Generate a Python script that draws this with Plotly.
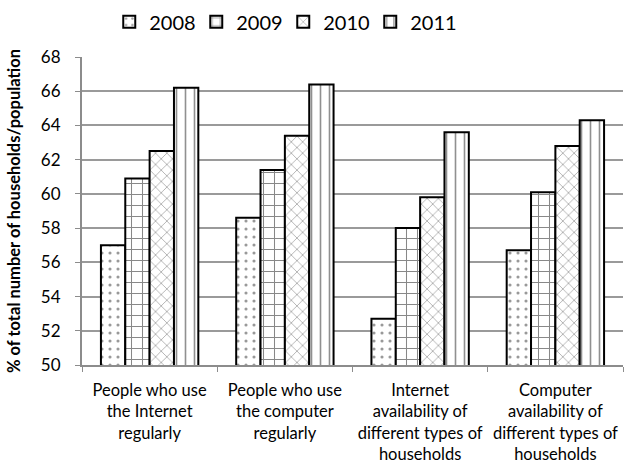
import plotly.graph_objects as go

categories = [
    "People who use<br>the Internet<br>regularly",
    "People who use<br>the computer<br>regularly",
    "Internet<br>availability of<br>different types of<br>households",
    "Computer<br>availability of<br>different types of<br>households",
]
years = ["2008", "2009", "2010", "2011"]
values_2008 = [57.0, 58.6, 52.7, 56.7]
values_2009 = [60.9, 61.4, 58.0, 60.1]
values_2010 = [62.5, 63.4, 59.8, 62.8]
values_2011 = [66.2, 66.4, 63.6, 64.3]
series = [values_2008, values_2009, values_2010, values_2011]

patterns = [
    dict(shape=".", size=8, solidity=0.12, fgcolor="#333333"),
    dict(shape="+", size=11, solidity=0.18, fgcolor="#111111"),
    dict(shape="x", size=8, solidity=0.2, fgcolor="#555555"),
    dict(shape="|", size=9, solidity=0.18, fgcolor="#222222"),
]

fig = go.Figure()
for name, vals, pat in zip(years, series, patterns):
    fig.add_trace(go.Bar(
        name=name,
        x=categories,
        y=vals,
        marker=dict(
            color="white",
            line=dict(color="black", width=2),
            pattern=dict(fillmode="overlay", bgcolor="white", **pat),
        ),
    ))

font_family = "Lato, 'Open Sans', sans-serif"

fig.update_layout(
    template="none",
    width=625,
    height=466,
    paper_bgcolor="white",
    plot_bgcolor="white",
    barmode="group",
    bargap=0.28,
    bargroupgap=0.0,
    margin=dict(l=82, r=2, t=57, b=101),
    font=dict(family=font_family, color="black"),
    legend=dict(
        orientation="h",
        x=0.372,
        xanchor="center",
        y=0.995,
        yanchor="top",
        yref="container",
        font=dict(size=20, family=font_family),
        itemwidth=30,
        entrywidth=42,
        entrywidthmode="pixels",
        traceorder="normal",
        bgcolor="rgba(0,0,0,0)",
    ),
    xaxis=dict(
        automargin=False,
        showline=True,
        linecolor="#8c8c8c",
        linewidth=2,
        ticks="outside",
        tickson="boundaries",
        ticklen=5,
        tickcolor="#8c8c8c",
        ticklabelstandoff=9,
        tickfont=dict(size=16.5, family=font_family),
        showgrid=False,
    ),
    yaxis=dict(
        automargin=False,
        range=[50, 68],
        dtick=2,
        showline=True,
        linecolor="#8c8c8c",
        linewidth=2,
        ticks="outside",
        ticklen=5,
        tickcolor="#8c8c8c",
        ticklabelstandoff=11,
        showgrid=True,
        gridcolor="#9a9a9a",
        gridwidth=2,
        zeroline=False,
        tickfont=dict(size=17, family=font_family),
        title=dict(
            text="<b>% of total number of households/population</b>",
            font=dict(size=16.5, family=font_family),
            standoff=16,
        ),
    ),
)

fig.write_html("out.html")
